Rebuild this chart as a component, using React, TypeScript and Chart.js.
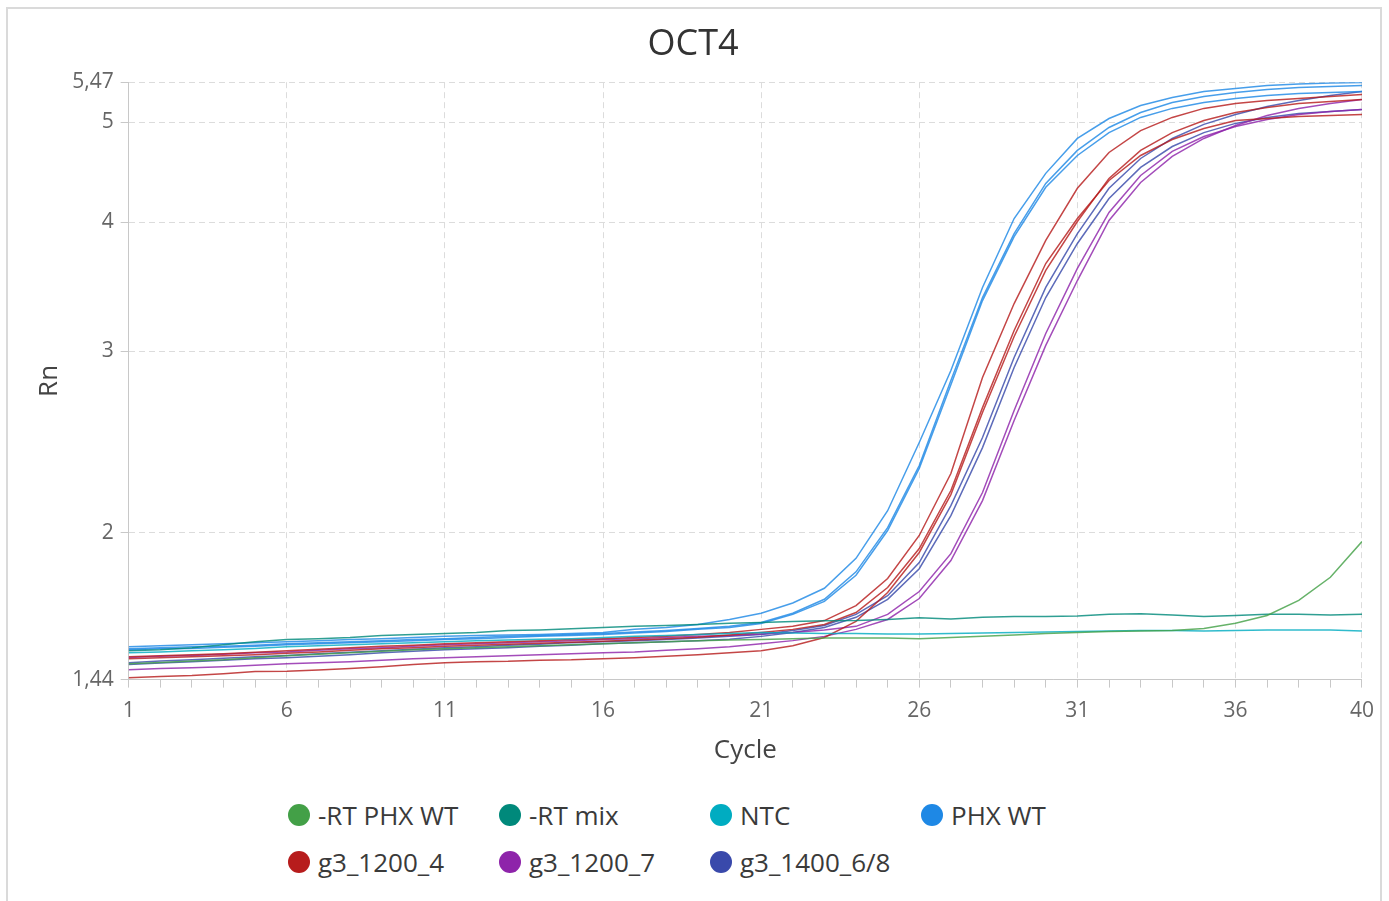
import { useEffect, useRef } from 'react';
import { Chart, registerables } from 'chart.js';

Chart.register(...registerables);

const FONT = "'Open Sans', 'Noto Sans', sans-serif";

// Cycle numbers on the x axis
const cycles = [
  1, 2, 3, 4, 5, 6, 7, 8, 9, 10,
  11, 12, 13, 14, 15, 16, 17, 18, 19, 20,
  21, 22, 23, 24, 25, 26, 27, 28, 29, 30,
  31, 32, 33, 34, 35, 36, 37, 38, 39, 40,
];

const xLabelCycles = [1, 6, 11, 16, 21, 26, 31, 36, 40];
const yTicks = [1.44, 2, 3, 4, 5, 5.47];

// Rn per cycle, one array per well
const rtPhxWt = [
  1.492, 1.496, 1.501, 1.505, 1.512, 1.519, 1.524, 1.529, 1.534, 1.539,
  1.543, 1.546, 1.550, 1.553, 1.557, 1.560, 1.564, 1.567, 1.571, 1.573,
  1.575, 1.578, 1.580, 1.580, 1.580, 1.578, 1.582, 1.586, 1.591, 1.596,
  1.600, 1.603, 1.605, 1.607, 1.614, 1.633, 1.662, 1.719, 1.810, 1.960,
];

const rtMix = [
  1.536, 1.539, 1.546, 1.557, 1.567, 1.575, 1.578, 1.582, 1.589, 1.593,
  1.596, 1.600, 1.607, 1.609, 1.613, 1.618, 1.622, 1.625, 1.629, 1.633,
  1.636, 1.640, 1.642, 1.643, 1.647, 1.653, 1.649, 1.655, 1.658, 1.658,
  1.660, 1.666, 1.668, 1.664, 1.658, 1.662, 1.666, 1.666, 1.664, 1.666,
];

const ntc = [
  1.529, 1.532, 1.536, 1.539, 1.544, 1.550, 1.553, 1.557, 1.560, 1.564,
  1.567, 1.571, 1.573, 1.576, 1.578, 1.582, 1.586, 1.589, 1.593, 1.596,
  1.600, 1.598, 1.596, 1.596, 1.594, 1.594, 1.596, 1.598, 1.600, 1.602,
  1.603, 1.605, 1.607, 1.607, 1.605, 1.607, 1.609, 1.609, 1.609, 1.605,
];

const phxWtA = [
  1.550, 1.553, 1.557, 1.560, 1.564, 1.567, 1.571, 1.575, 1.578, 1.582,
  1.586, 1.589, 1.591, 1.593, 1.596, 1.600, 1.611, 1.618, 1.629, 1.647,
  1.670, 1.709, 1.766, 1.888, 2.100, 2.446, 2.873, 3.458, 4.034, 4.462,
  4.824, 5.044, 5.193, 5.287, 5.358, 5.394, 5.430, 5.448, 5.461, 5.466,
];

const phxWtB = [
  1.543, 1.546, 1.550, 1.551, 1.555, 1.560, 1.564, 1.567, 1.571, 1.575,
  1.578, 1.582, 1.586, 1.589, 1.593, 1.596, 1.602, 1.607, 1.614, 1.622,
  1.636, 1.670, 1.723, 1.832, 2.022, 2.323, 2.809, 3.381, 3.900, 4.363,
  4.697, 4.944, 5.112, 5.228, 5.299, 5.346, 5.382, 5.406, 5.418, 5.430,
];

const phxWtC = [
  1.539, 1.543, 1.544, 1.548, 1.551, 1.557, 1.560, 1.564, 1.567, 1.571,
  1.575, 1.578, 1.582, 1.586, 1.589, 1.593, 1.598, 1.603, 1.611, 1.618,
  1.632, 1.666, 1.715, 1.818, 2.009, 2.308, 2.783, 3.358, 3.874, 4.325,
  4.644, 4.887, 5.056, 5.159, 5.228, 5.275, 5.311, 5.334, 5.346, 5.358,
];

const g3_1200_4A = [
  1.515, 1.519, 1.522, 1.526, 1.531, 1.536, 1.541, 1.546, 1.551, 1.555,
  1.560, 1.564, 1.567, 1.571, 1.575, 1.578, 1.582, 1.586, 1.593, 1.600,
  1.611, 1.622, 1.643, 1.699, 1.805, 1.987, 2.282, 2.828, 3.336, 3.841,
  4.316, 4.675, 4.909, 5.056, 5.159, 5.217, 5.252, 5.275, 5.299, 5.322,
];

const g3_1200_4B = [
  1.509, 1.512, 1.515, 1.519, 1.522, 1.527, 1.532, 1.538, 1.543, 1.546,
  1.551, 1.555, 1.558, 1.562, 1.565, 1.569, 1.573, 1.578, 1.583, 1.591,
  1.600, 1.611, 1.629, 1.673, 1.769, 1.930, 2.197, 2.644, 3.141, 3.648,
  4.034, 4.392, 4.644, 4.813, 4.933, 5.022, 5.044, 5.067, 5.078, 5.089,
];

const g3_1200_4C = [
  1.446, 1.450, 1.453, 1.459, 1.466, 1.467, 1.471, 1.476, 1.482, 1.489,
  1.495, 1.499, 1.500, 1.504, 1.505, 1.509, 1.512, 1.517, 1.522, 1.529,
  1.536, 1.553, 1.582, 1.640, 1.749, 1.913, 2.177, 2.615, 3.099, 3.592,
  4.007, 4.412, 4.697, 4.887, 5.022, 5.112, 5.170, 5.217, 5.240, 5.263,
];

const g3_1200_7A = [
  1.513, 1.517, 1.520, 1.524, 1.529, 1.532, 1.538, 1.543, 1.546, 1.551,
  1.557, 1.560, 1.564, 1.567, 1.571, 1.575, 1.578, 1.582, 1.586, 1.589,
  1.594, 1.600, 1.609, 1.622, 1.666, 1.753, 1.908, 2.187, 2.627, 3.120,
  3.608, 4.089, 4.441, 4.686, 4.845, 4.955, 5.033, 5.089, 5.124, 5.147,
];

const g3_1200_7B = [
  1.472, 1.476, 1.479, 1.482, 1.487, 1.492, 1.495, 1.499, 1.504, 1.509,
  1.512, 1.515, 1.519, 1.522, 1.526, 1.529, 1.532, 1.538, 1.543, 1.550,
  1.560, 1.571, 1.586, 1.611, 1.647, 1.726, 1.879, 2.148, 2.569, 3.038,
  3.512, 4.016, 4.372, 4.634, 4.824, 4.966, 5.078, 5.159, 5.217, 5.263,
];

const g3_1400_68A = [
  1.495, 1.501, 1.505, 1.510, 1.515, 1.520, 1.526, 1.531, 1.536, 1.541,
  1.546, 1.550, 1.555, 1.558, 1.564, 1.567, 1.571, 1.575, 1.580, 1.586,
  1.593, 1.607, 1.625, 1.666, 1.737, 1.870, 2.124, 2.473, 2.957, 3.458,
  3.900, 4.316, 4.613, 4.824, 4.978, 5.089, 5.182, 5.252, 5.311, 5.358,
];

const g3_1400_68B = [
  1.489, 1.494, 1.499, 1.504, 1.509, 1.512, 1.517, 1.522, 1.529, 1.534,
  1.539, 1.543, 1.546, 1.551, 1.555, 1.560, 1.564, 1.567, 1.571, 1.576,
  1.586, 1.600, 1.618, 1.655, 1.723, 1.845, 2.077, 2.418, 2.892, 3.381,
  3.815, 4.218, 4.522, 4.738, 4.887, 4.989, 5.056, 5.101, 5.124, 5.147,
];

const sampleNames = ['-RT PHX WT', '-RT mix', 'NTC', 'PHX WT', 'g3_1200_4', 'g3_1200_7', 'g3_1400_6/8'];
const sampleColors = ['#43A047', '#00897B', '#00ACC1', '#1E88E5', '#B71C1C', '#8E24AA', '#3949AB'];
const sampleRuns = [
  [rtPhxWt],
  [rtMix],
  [ntc],
  [phxWtA, phxWtB, phxWtC],
  [g3_1200_4A, g3_1200_4B, g3_1200_4C],
  [g3_1200_7A, g3_1200_7B],
  [g3_1400_68A, g3_1400_68B],
];

function buildDatasets() {
  const sets: any[] = [];
  sampleNames.forEach((name, i) => {
    sampleRuns[i].forEach((run, j) => {
      sets.push({
        label: `${name} ${j + 1}`,
        data: run,
        borderColor: sampleColors[i] + 'D0',
        backgroundColor: sampleColors[i],
        borderWidth: 1.5,
        pointRadius: 0,
        tension: 0,
        fill: false,
      });
    });
  });
  return sets;
}

export default function App() {
  const canvasRef = useRef<HTMLCanvasElement>(null);

  useEffect(() => {
    if (!canvasRef.current) return;
    const chart = new Chart(canvasRef.current, {
      type: 'line',
      data: { labels: cycles, datasets: buildDatasets() },
      options: {
        animation: false,
        responsive: false,
        maintainAspectRatio: false,
        layout: { padding: { left: 0, right: 7, top: 0, bottom: 0 } },
        plugins: {
          legend: { display: false },
          tooltip: { enabled: false },
          title: {
            display: true,
            text: 'OCT4',
            color: '#333333',
            font: { family: FONT, size: 36, weight: 'normal' },
            padding: { top: 14, bottom: 16 },
          },
        },
        scales: {
          x: {
            type: 'linear',
            min: 1,
            max: 40,
            ticks: {
              stepSize: 1,
              autoSkip: false,
              maxRotation: 0,
              padding: 11,
              color: '#666666',
              font: { family: FONT, size: 21 },
              callback: (v: any) => (xLabelCycles.includes(Number(v)) ? String(v) : ''),
            },
            grid: {
              color: (ctx: any) =>
                ctx.tick && xLabelCycles.includes(Number(ctx.tick.value)) ? '#dcdcdc' : 'rgba(0,0,0,0)',
              tickColor: '#c8c8c8',
              tickLength: 8,
            },
            border: { color: '#c8c8c8', dash: [6, 4] },
            title: {
              display: true,
              text: 'Cycle',
              color: '#444444',
              font: { family: FONT, size: 26 },
              padding: { top: 0, bottom: 4 },
            },
          },
          y: {
            type: 'logarithmic',
            min: 1.44,
            max: 5.47,
            afterBuildTicks: (scale: any) => {
              scale.ticks = yTicks.map((v) => ({ value: v }));
            },
            ticks: {
              padding: 7,
              color: '#666666',
              font: { family: FONT, size: 21 },
              callback: (v: any) => String(v).replace('.', ','),
            },
            grid: { color: '#dcdcdc', tickColor: '#c8c8c8', tickLength: 8 },
            border: { color: '#c8c8c8', dash: [6, 4] },
            title: {
              display: true,
              text: 'Rn',
              color: '#444444',
              font: { family: FONT, size: 26 },
              padding: { top: 26, bottom: 0 },
            },
          },
        },
      } as any,
    });
    return () => chart.destroy();
  }, []);

  return (
    <div
      style={{
        position: 'absolute',
        left: 6,
        top: 7,
        width: 1376,
        height: 910,
        border: '2px solid #dadada',
        boxSizing: 'border-box',
        background: '#ffffff',
        fontFamily: FONT,
      }}
    >
      <canvas
        ref={canvasRef}
        width={1377}
        height={761}
        style={{ position: 'absolute', left: 0, top: 0, width: 1377, height: 761 }}
      />
      <div
        style={{
          position: 'absolute',
          left: 280,
          top: 782,
          display: 'grid',
          gridTemplateColumns: 'repeat(4, 211px)',
          gridAutoRows: '47px',
          alignItems: 'center',
        }}
      >
        {sampleNames.map((name, i) => (
          <div key={name} style={{ display: 'flex', alignItems: 'center', whiteSpace: 'nowrap' }}>
            <span
              style={{
                display: 'inline-block',
                width: 22,
                height: 22,
                borderRadius: '50%',
                background: sampleColors[i],
                marginRight: 8,
                flex: 'none',
              }}
            />
            <span style={{ fontSize: 26, color: '#3a3a3a', lineHeight: 1 }}>{name}</span>
          </div>
        ))}
      </div>
    </div>
  );
}
